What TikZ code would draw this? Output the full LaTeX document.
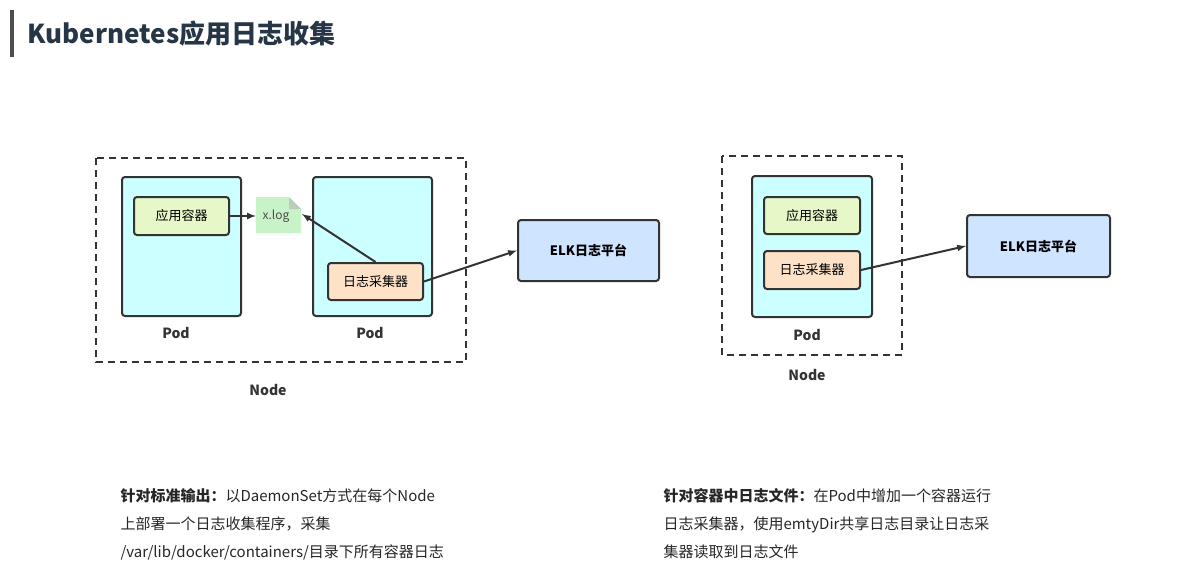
\documentclass[tikz,border=0pt]{standalone}
\usepackage{fontspec}
\setmainfont{Noto Sans CJK SC}
\usetikzlibrary{positioning}

\definecolor{podcyan}{HTML}{CCFFFF}
\definecolor{appgreen}{HTML}{E6F8C8}
\definecolor{colorange}{HTML}{FDE2C8}
\definecolor{elkblue}{HTML}{CFE4FF}
\definecolor{loggreen}{HTML}{C8F2C8}
\definecolor{linegray}{HTML}{333333}
\definecolor{titleblue}{HTML}{263646}

\begin{document}
\begin{tikzpicture}[
        x=1pt, y=-1pt,
        box/.style = {
            draw = linegray,
            line width = 2pt,
            rounded corners = 3pt,
            inner sep = 0pt,
            font = \fontsize{13}{15}\selectfont
        },
        pod/.style = {box, fill=podcyan},
        lbl/.style = {font=\fontsize{14}{16}\selectfont\bfseries, text=linegray},
        arr/.style = {-latex, line width = 2pt, draw=linegray},
        nodebox/.style = {dash pattern=on 7pt off 5pt, line width=2pt, draw=linegray},
        node distance = {5mm}
        ]
        \useasboundingbox (0,0) rectangle (1184,581);
%
        \draw[line width=3.5pt, black!70] (12,10) -- (12,57);
        \node[anchor=west, font=\fontsize{26}{28}\selectfont\bfseries, text=titleblue] (title) at (24,34) {Kubernetes应用日志收集};
%
% left node
        \draw[nodebox] (96,158) rectangle (466,362);
        \node[lbl] (nodeL) at (268,390) {Node};
        \draw[pod] (122,177) rectangle (241,316);
        \node[lbl] (podL1) at (176,333) {Pod};
        \draw[pod] (313,177) rectangle (432,316);
        \node[lbl] (podL2) at (370,333) {Pod};
        \node[box, fill=appgreen, minimum width=95, minimum height=38] (appL) at (181.5,216) {应用容器};
        \node[box, fill=colorange, minimum width=95, minimum height=37] (colL) at (375.5,281.5) {日志采集器};
        \fill[loggreen] (256,197) -- (289,197) -- (301,209) -- (301,233) -- (256,233) -- cycle;
        \fill[loggreen!70!black!60] (289,197) -- (301,209) -- (289,209) -- cycle;
        \node[font=\fontsize{12}{13}\selectfont, text=black!70, inner sep=0pt] (log) at (276,216) {x.log};
        \coordinate (logW) at (256,216);
        \coordinate (logE) at (302,214);
        \node[box, fill=elkblue, minimum width=141, minimum height=61, font=\fontsize{13}{15}\selectfont\bfseries] (elkL) at (588.5,250.5) {ELK日志平台};
%
        \draw[arr] (appL) -- (logW);
        \draw[arr] (colL.north) -- (logE);
        \draw[arr] (colL.east) -- (elkL.west);
%
% right node
        \draw[nodebox] (722,156) rectangle (902,355);
        \node[lbl] (nodeR) at (807,375) {Node};
        \draw[pod] (752,176) rectangle (872,317);
        \node[lbl] (podR) at (807,335) {Pod};
        \node[box, fill=appgreen, minimum width=96, minimum height=37] (appR) at (812,215.5) {应用容器};
        \node[box, fill=colorange, minimum width=96, minimum height=38] (colR) at (812,270) {日志采集器};
        \node[box, fill=elkblue, minimum width=143, minimum height=62, font=\fontsize{13}{15}\selectfont\bfseries] (elkR) at (1038.5,246) {ELK日志平台};
        \draw[arr] (colR.east) -- (elkR.west);
%
% captions
        \node[anchor=north west, align=left, font=\fontsize{15}{28}\selectfont, text=black!85] (capL) at (117,485)
            {\textbf{针对标准输出：}以DaemonSet方式在每个Node\\上部署一个日志收集程序，采集\\/var/lib/docker/containers/目录下所有容器日志};
        \node[anchor=north west, align=left, font=\fontsize{15}{28}\selectfont, text=black!85] (capR) at (660,485)
            {\textbf{针对容器中日志文件：}在Pod中增加一个容器运行\\日志采集器，使用emtyDir共享日志目录让日志采\\集器读取到日志文件};
    \end{tikzpicture}
\end{document}
